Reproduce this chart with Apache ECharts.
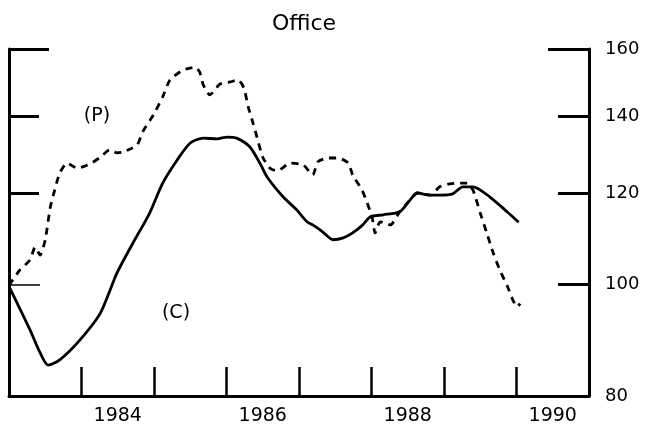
<!DOCTYPE html>
<html>
<head>
<meta charset="utf-8">
<title>Office</title>
<script src="https://cdn.jsdelivr.net/npm/echarts@6/dist/echarts.min.js"></script>
<style>
  html, body { margin: 0; padding: 0; background: #fff; }
  #chart { width: 645px; height: 433px; }
</style>
</head>
<body>
<div id="chart"></div>
<script>
// x: year boundaries, labels centred inside each year
const X_LABELS = ["1983", "1984", "1985", "1986", "1987", "1988", "1989", "1990"];
// y: log scale, index values
const Y_TICKS = [80, 100, 120, 140, 160];

// (C) solid line
const C_YEARS = [1983.00, 1983.29, 1983.43, 1983.54, 1983.70, 1983.98, 1984.26, 1984.49, 1984.71, 1984.94,
  1985.12, 1985.32, 1985.50, 1985.68, 1985.87, 1986.01, 1986.14, 1986.32, 1986.46, 1986.56,
  1986.78, 1986.97, 1987.11, 1987.19, 1987.33, 1987.47, 1987.61, 1987.74, 1987.88, 1987.98,
  1988.16, 1988.39, 1988.53, 1988.63, 1988.81, 1988.94, 1989.12, 1989.26, 1989.40, 1989.63,
  1989.87, 1990.03];
const C_VALUES = [99.6, 91.3, 87.2, 85.1, 86.0, 89.5, 94.4, 102.3, 108.6, 115.3,
  122.4, 128.2, 132.6, 133.9, 133.7, 134.2, 133.9, 131.6, 127.4, 123.9,
  119.1, 116.0, 113.3, 112.6, 111.0, 109.3, 109.7, 110.8, 112.6, 114.4,
  114.9, 115.6, 118.3, 120.0, 119.5, 119.5, 119.8, 121.5, 121.5, 119.1,
  115.6, 113.2];

// (P) dashed line
const P_YEARS = [1983.00, 1983.15, 1983.29, 1983.36, 1983.43, 1983.50, 1983.57, 1983.63, 1983.70, 1983.80,
  1983.94, 1984.12, 1984.26, 1984.39, 1984.49, 1984.57, 1984.70, 1984.77, 1984.85, 1984.99,
  1985.12, 1985.22, 1985.40, 1985.57, 1985.63, 1985.68, 1985.77, 1985.91, 1986.05, 1986.16,
  1986.24, 1986.30, 1986.37, 1986.42, 1986.50, 1986.60, 1986.70, 1986.88, 1987.06, 1987.19,
  1987.26, 1987.40, 1987.54, 1987.68, 1987.74, 1987.87, 1987.94, 1988.01, 1988.05, 1988.12,
  1988.26, 1988.39, 1988.53, 1988.63, 1988.81, 1988.94, 1989.08, 1989.22, 1989.32, 1989.40,
  1989.50, 1989.59, 1989.68, 1989.77, 1989.88, 1989.95, 1990.01, 1990.05];
const P_VALUES = [99.8, 102.9, 105.0, 107.7, 106.0, 109.3, 116.7, 120.7, 124.9, 127.4,
  126.1, 127.2, 128.9, 130.8, 130.0, 130.2, 131.3, 132.1, 135.8, 140.2,
  145.4, 150.4, 153.4, 154.3, 152.8, 148.9, 146.0, 149.2, 149.8, 150.4,
  148.0, 142.5, 137.7, 134.2, 128.9, 126.1, 125.4, 127.4, 126.9, 124.4,
  127.7, 128.7, 128.7, 127.4, 124.4, 120.7, 117.7, 114.2, 110.8, 113.3,
  112.6, 115.6, 118.3, 120.0, 119.5, 121.5, 122.2, 122.4, 122.4, 120.7,
  115.3, 110.8, 106.4, 102.9, 99.4, 96.9, 95.6, 96.2];

const FONT = "DejaVu Sans";
const lg = (v) => Math.log10(v);
const toPairs = (xs, ys) => xs.map((x, i) => [x, lg(ys[i])]);

/** one y axis: line, ticks at given values, optional labels */
const makeYAxis = (position, tickVals, tickLen, tickWidth, showLine, showLabel) => ({
  type: "value",
  position: position,
  min: lg(Y_TICKS[0]),
  max: lg(Y_TICKS[Y_TICKS.length - 1]),
  axisLine: { show: showLine, onZero: false, lineStyle: { color: "#000", width: 3 } },
  axisTick: {
    show: true,
    inside: true,
    length: tickLen,
    customValues: tickVals.map(lg),
    lineStyle: { color: "#000", width: tickWidth }
  },
  axisLabel: {
    show: showLabel,
    customValues: Y_TICKS.map(lg),
    formatter: (v) => String(Math.round(Math.pow(10, v))),
    color: "#000",
    fontFamily: FONT,
    fontSize: 18,
    margin: 16
  },
  splitLine: { show: false }
});

const chart = echarts.init(document.getElementById("chart"));

const option = {
  backgroundColor: "#fff",
  animation: false,
  title: {
    text: "Office",
    left: 299,
    top: 8,
    textAlign: "center",
    textStyle: { color: "#000", fontFamily: FONT, fontSize: 22, fontWeight: "normal" }
  },
  grid: { left: 9, right: 56, top: 49, bottom: 37, containLabel: false },
  xAxis: [
    {
      // data axis: line + year-boundary ticks, no labels
      type: "value",
      position: "bottom",
      min: 1983,
      max: 1991,
      interval: 1,
      axisLine: { show: true, onZero: false, lineStyle: { color: "#000", width: 3 } },
      axisTick: { show: true, inside: true, length: 29, lineStyle: { color: "#000", width: 2.5 } },
      axisLabel: { show: false },
      splitLine: { show: false }
    },
    {
      // label axis: year names centred, every other year
      type: "category",
      position: "bottom",
      data: X_LABELS,
      boundaryGap: true,
      axisLine: { show: false, onZero: false },
      axisTick: { show: false },
      axisLabel: {
        interval: (index) => index % 2 === 1,
        color: "#000",
        fontFamily: FONT,
        fontSize: 19,
        margin: 11
      },
      splitLine: { show: false }
    }
  ],
  yAxis: [
    makeYAxis("right", [100, 120, 140], 31, 3, true, true),
    makeYAxis("right", [160], 41, 3, false, false),
    makeYAxis("left", [120, 140], 30, 3, true, false),
    makeYAxis("left", [160], 40, 3, false, false),
    makeYAxis("left", [100], 31, 1.5, false, false)
  ],
  graphic: [
    { type: "text", x: 97, y: 116, style: { text: "(P)", font: "19px " + FONT, fill: "#000", align: "center", verticalAlign: "middle" } },
    { type: "text", x: 176, y: 313, style: { text: "(C)", font: "19px " + FONT, fill: "#000", align: "center", verticalAlign: "middle" } }
  ],
  series: [
    {
      name: "C",
      type: "line",
      xAxisIndex: 0,
      yAxisIndex: 0,
      data: toPairs(C_YEARS, C_VALUES),
      showSymbol: false,
      smooth: 0.25,
      lineStyle: { color: "#000", width: 2.8 }
    },
    {
      name: "P",
      type: "line",
      xAxisIndex: 0,
      yAxisIndex: 0,
      data: toPairs(P_YEARS, P_VALUES),
      showSymbol: false,
      smooth: 0.2,
      lineStyle: { color: "#000", width: 2.8, type: [7, 6] }
    }
  ]
};

chart.setOption(option);
</script>
</body>
</html>
